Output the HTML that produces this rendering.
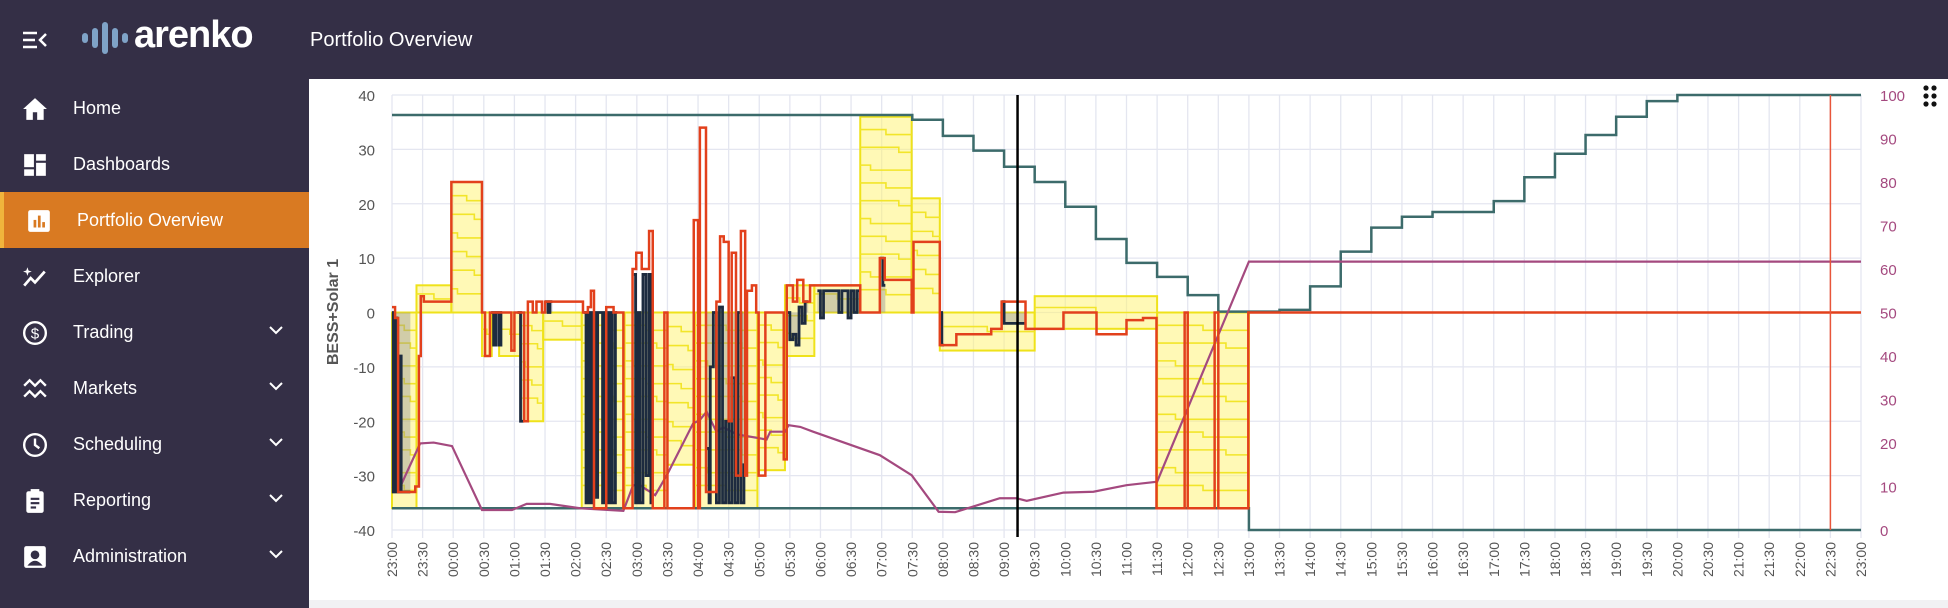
<!DOCTYPE html>
<html><head><meta charset="utf-8"><style>
*{box-sizing:border-box;margin:0;padding:0}
body{width:1948px;height:608px;overflow:hidden;background:#342f46;font-family:"Liberation Sans",sans-serif;position:relative}
#hdr{position:absolute;left:0;top:0;width:1948px;height:79px;background:#342f46}
#side{position:absolute;left:0;top:79px;width:309px;height:529px;background:#342f46}
.item{position:absolute;left:0;width:309px;height:56px;color:#fff;font-size:18px}
.item .lbl{position:absolute;left:73px;top:18px}
.item svg.ic{position:absolute;left:22px;top:16px}
.item .chev{position:absolute;left:268px;top:20px}
#card{position:absolute;left:309px;top:79px;width:1639px;height:521px;background:#fff}
#strip{position:absolute;left:309px;top:600px;width:1639px;height:8px;background:#f1f1f3}
</style></head><body>
<div id="hdr">
 <svg style="position:absolute;left:22px;top:30px" width="26" height="20"><g stroke="#fff" stroke-width="2.5"><line x1="1" y1="3" x2="15" y2="3"/><line x1="1" y1="10" x2="13" y2="10"/><line x1="1" y1="17" x2="15" y2="17"/><polyline points="24,4 18,10 24,16" fill="none"/></g></svg>
 <svg style="position:absolute;left:82px;top:22px" width="46" height="32"><g fill="#7fa3c7"><rect x="0" y="11" width="6" height="10" rx="3"/><rect x="10" y="6" width="6" height="20" rx="3"/><rect x="20" y="0" width="6" height="32" rx="3"/><rect x="30" y="6" width="6" height="20" rx="3"/><rect x="40" y="11" width="6" height="10" rx="3"/></g></svg>
 <div style="position:absolute;left:134px;top:14px;color:#fff;font-size:38px;font-weight:bold;letter-spacing:-1px">arenko</div>
 <div style="position:absolute;left:310px;top:29px;color:#fff;font-size:20px">Portfolio Overview</div>
</div>
<div id="side"></div>
<div id="card"></div>
<div id="strip"></div>
<svg id="chart" style="position:absolute;left:0;top:0" width="1948" height="608"></svg>
<script>
// ---- sidebar ----
const menuLabels=["Home","Dashboards","Portfolio Overview","Explorer","Trading","Markets","Scheduling","Reporting","Administration"];
const menuChevron=[false,false,false,false,true,true,true,true,true];
const icons=[
 '<path d="M12 2 L1 12 H4 V22 H10 V15 H14 V22 H20 V12 H23 Z" fill="#fff"/>',
 '<rect x="2" y="2" width="9" height="12" fill="#fff"/><rect x="13" y="2" width="9" height="6" fill="#fff"/><rect x="2" y="16" width="9" height="6" fill="#fff"/><rect x="13" y="10" width="9" height="12" fill="#fff"/>',
 '<rect x="2" y="2" width="20" height="20" rx="2" fill="#fff"/><rect x="7" y="11" width="2.5" height="7" fill="#d97a22"/><rect x="11" y="7" width="2.5" height="11" fill="#d97a22"/><rect x="15" y="13" width="2.5" height="5" fill="#d97a22"/>',
 '<polyline points="2,20 8,13 12,17 21,7" fill="none" stroke="#fff" stroke-width="2.5"/><path d="M5 3 L6 6 L9 7 L6 8 L5 11 L4 8 L1 7 L4 6Z" fill="#fff"/>',
 '<circle cx="12" cy="12" r="10" fill="none" stroke="#fff" stroke-width="2.2"/><text x="12" y="17" font-size="14" fill="#fff" text-anchor="middle" font-family="Liberation Sans">$</text>',
 '<polyline points="2,9 7,4 12,9 17,4 22,9" fill="none" stroke="#fff" stroke-width="2.2"/><polyline points="2,19 7,14 12,19 17,14 22,19" fill="none" stroke="#fff" stroke-width="2.2"/>',
 '<circle cx="12" cy="12" r="10" fill="none" stroke="#fff" stroke-width="2.2"/><polyline points="12,6 12,12 16,15" fill="none" stroke="#fff" stroke-width="2.2"/>',
 '<rect x="4" y="3" width="16" height="20" rx="2" fill="#fff"/><rect x="8" y="1" width="8" height="4" fill="#fff"/><g stroke="#342f46" stroke-width="2"><line x1="8" y1="10" x2="16" y2="10"/><line x1="8" y1="14" x2="16" y2="14"/><line x1="8" y1="18" x2="13" y2="18"/></g>',
 '<rect x="2" y="2" width="20" height="20" rx="2" fill="#fff"/><circle cx="12" cy="10" r="4" fill="#342f46"/><path d="M5 20 Q12 11 19 20Z" fill="#342f46"/>'
];
const side=document.getElementById('side');
menuLabels.forEach((l,i)=>{
 const d=document.createElement('div');
 d.className='item';
 
 
 d.style.top=(i*56+1)+'px';
 if(i===2){d.style.background='#d97a22';d.style.borderLeft='4px solid #f0b43c';}
 d.innerHTML='<svg class="ic" width="26" height="26" viewBox="0 0 24 24">'+icons[i]+'</svg><span class="lbl">'+l+'</span>'+(menuChevron[i]?'<svg class="chev" width="16" height="12"><polyline points="2,3 8,9 14,3" fill="none" stroke="#fff" stroke-width="2"/></svg>':'');
 side.appendChild(d);
});

// ---- chart data ----
const xLabels=["23:00","23:30","00:00","00:30","01:00","01:30","02:00","02:30","03:00","03:30","04:00","04:30","05:00","05:30","06:00","06:30","07:00","07:30","08:00","08:30","09:00","09:30","10:00","10:30","11:00","11:30","12:00","12:30","13:00","13:30","14:00","14:30","15:00","15:30","16:00","16:30","17:00","17:30","18:00","18:30","19:00","19:30","20:00","20:30","21:00","21:30","22:00","22:30","23:00"];
const leftTicks=[40,30,20,10,0,-10,-20,-30,-40];
const rightTicks=[100,90,80,70,60,50,40,30,20,10,0];
const socMax=[[0,95.4],[8.5,94.3],[9,90.6],[9.5,87.2],[10,83.5],[10.5,80],[11,74.3],[11.5,66.9],[12,61.4],[12.5,58.2],[13,54],[13.5,50.2],[14.5,50.6],[15,56],[15.5,64],[16,69.5],[16.5,72],[17,73.1],[18,75.6],[18.5,81.1],[19,86.5],[19.5,90.8],[20,95],[20.5,98.6],[21,100],[24,100]];
const socMin=[[0,5],[14,0],[24,0]];
const socPath=[[0,9.6],[0.13,9.8],[0.46,19.9],[0.68,20.1],[0.98,19.3],[1.47,4.6],[1.96,4.6],[2.2,6],[2.58,6],[3.07,5],[3.78,4.4],[3.94,10.3],[4.05,10.3],[4.3,8],[4.49,12.6],[4.92,24.5],[5.03,25.3],[5.14,27.2],[5.3,22.6],[5.41,23.6],[5.63,22],[6.12,20.8],[6.18,22.6],[6.42,22.6],[6.48,24.1],[6.67,23.7],[6.88,22.6],[7.97,17.2],[8.49,12.6],[8.93,4.2],[9.2,4.1],[9.93,7.3],[10.2,7.3],[10.37,6.7],[10.97,8.6],[11.46,8.8],[12.0,10.3],[12.5,11.1],[14,61.7],[24,61.7]];
const redSetpoint=[[0,1],[0.05,-1],[0.1,-33],[0.38,-32],[0.44,-8],[0.47,3],[0.52,2],[0.97,24],[1.47,0],[1.52,-8],[1.6,0],[1.95,-7],[2.0,0],[2.16,-20],[2.22,2],[2.3,0],[2.36,2],[2.45,0],[2.5,2],[3.12,0],[3.2,1],[3.25,4],[3.3,-36],[3.5,1],[3.62,0],[3.78,-36],[3.93,8],[3.99,11],[4.08,8],[4.2,15],[4.26,-36],[4.45,0],[4.5,-36],[4.93,17],[5.0,-36],[5.03,34],[5.13,-33],[5.3,2],[5.36,14],[5.42,13],[5.5,-20],[5.55,11],[5.62,-30],[5.7,15],[5.77,-30],[5.8,4],[5.88,5],[5.95,0],[5.99,-30],[6.1,0],[6.4,-27],[6.45,5],[6.55,2],[6.62,6],[6.72,2],[6.83,5],[7.65,0],[7.97,10],[8.05,6],[8.49,0],[8.52,13],[8.95,-6],[9.22,-4],[9.79,-3],[9.96,2],[10.35,-3],[10.97,0],[11.51,-4],[12.0,-1.4],[12.27,-1],[12.49,-36],[12.95,0],[13.0,-36],[13.44,0],[13.5,-36],[13.99,0],[24,0]];
const navyActual=[[0,0],[0.02,-33],[0.05,-1],[0.08,-33],[0.12,-8],[0.15,-33],[0.3,null],[1.62,0],[1.66,-6],[1.7,0],[1.75,-6],[1.78,0],[1.8,null],[2.05,0],[2.1,-20],[2.16,null],[2.5,2],[2.55,0],[2.58,2],[2.62,null],[3.13,0],[3.17,-35],[3.2,0],[3.24,-35],[3.28,0],[3.32,-34],[3.36,0],[3.44,-35],[3.48,0],[3.53,-35],[3.57,0],[3.6,-35],[3.65,0],[3.68,null],[3.95,7],[3.98,-35],[4.02,0],[4.05,-35],[4.1,7],[4.15,-30],[4.2,7],[4.23,-35],[4.28,null],[5.14,-25],[5.18,-35],[5.2,-10],[5.25,0],[5.3,-35],[5.35,1],[5.4,-35],[5.45,-20],[5.5,-35],[5.55,-12],[5.6,-35],[5.65,0],[5.7,-35],[5.75,-28],[5.8,null],[6.45,0],[6.5,-5],[6.55,-4],[6.6,-6],[6.65,1],[6.7,-2],[6.75,2],[6.8,null],[6.95,4],[7.0,-1],[7.05,4],[7.3,0],[7.35,4],[7.45,-1],[7.5,4],[7.55,0],[7.6,4],[7.65,null],[7.97,10],[8.02,5],[8.06,null],[8.95,0],[8.98,-6],[9.02,null],[9.96,2],[10.0,-2],[10.3,-2],[10.35,null]];
const bandStart=[0,0.4,0.97,1.47,1.75,2.1,2.47,3.1,3.8,4.5,4.95,5.97,6.42,6.9,7.65,8.49,8.95,10.5,12.5];
const bandEnd=[0.4,0.97,1.47,1.63,2.1,2.47,3.1,3.8,4.5,4.95,5.97,6.42,6.9,7.65,8.49,8.95,10.5,12.5,14.0];
const bandTop=[0,5,24,0,0,0,0,0,0,0,0,0,5,5,36,21,0,3,0];
const bandBottom=[-36,0,0,-8,-8,-20,-5,-36,-36,-28,-36,-29,-8,0,0,0,-7,-3,-36];
const cursorHour=10.22;
const nowHour=23.5;

// ---- scales ----
const X0=392,X1=1861,YT=95,YB=530;
const xs=h=>X0+h*(X1-X0)/24;
const yL=v=>YT+(40-v)*(YB-YT)/80;
const yR=p=>YB-p*(YB-YT)/100;
const svg=document.getElementById('chart');
const NS='http://www.w3.org/2000/svg';
function mk(tag,attrs,parent){const e=document.createElementNS(NS,tag);for(const k in attrs)e.setAttribute(k,attrs[k]);(parent||svg).appendChild(e);return e;}

const grid=mk('g',{});


leftTicks.forEach(v=>mk('line',{x1:X0,x2:X1,y1:yL(v),y2:yL(v),stroke:'#e4e6f0','stroke-width':1.3},grid));
xLabels.forEach((l,i)=>mk('line',{x1:xs(i/2),x2:xs(i/2),y1:YT,y2:YB+8,stroke:'#e4e6f0','stroke-width':1.3},grid));

const bands=mk('g',{});


bandStart.forEach((s,i)=>{
 const x0=xs(s),x1=xs(bandEnd[i]),y0=yL(bandTop[i]),y1=yL(bandBottom[i]);
 const r=mk('rect',{x:x0,y:y0,width:x1-x0,height:y1-y0,fill:'rgba(255,243,110,0.5)',stroke:'#efe21a','stroke-width':2},bands);
 
 
 const n=Math.max(2,Math.round((y1-y0)/18));
 for(let k=1;k<n;k++){const yy=y0+(y1-y0)*k/n;const xa=x0+(x1-x0)*(k%3===0?0.2:(k%3===1?0.5:0.75));mk('polyline',{points:`${x0},${yy-5} ${xa},${yy-5} ${xa},${yy} ${x1},${yy}`,fill:'none',stroke:'#f2e52a','stroke-width':1.6},bands);}
});

function stepPath(arr,yf){let d='',pen=false;for(let i=0;i<arr.length;i++){const [h,v]=arr[i];if(v===null){pen=false;continue;}const x=xs(h),y=yf(v);if(!pen){d+=`M${x},${y}`;pen=true;}else{d+=`H${x}V${y}`;}const nx=i+1<arr.length?xs(arr[i+1][0]):x;d+=`H${nx}`;}return d;}
function linePath(arr,yf){return arr.map((p,i)=>(i?'L':'M')+xs(p[0])+','+yf(p[1])).join('');}

const nf=mk('path',{d:(()=>{let d='';for(let i=0;i<navyActual.length-1;i++){const [h,v]=navyActual[i];if(v===null)continue;const x0=xs(h),x1=xs(navyActual[i+1][0]);d+=`M${x0},${yL(0)}V${yL(v)}H${x1}V${yL(0)}Z`;}return d;})(),fill:'rgba(140,140,150,0.4)'});



const sMax=mk('path',{d:stepPath(socMax,yR),fill:'none',stroke:'#3c6b6b','stroke-width':2.5});


const sMin=mk('path',{d:stepPath(socMin,yR),fill:'none',stroke:'#3c6b6b','stroke-width':2.5});


const soc=mk('path',{d:linePath(socPath,yR),fill:'none',stroke:'#a4497f','stroke-width':2.2});


const nv=mk('path',{d:stepPath(navyActual,yL),fill:'none',stroke:'#1d2b3f','stroke-width':2.8});


const rd=mk('path',{d:stepPath(redSetpoint,yL),fill:'none',stroke:'#e2401c','stroke-width':2.5});


const cur=mk('line',{x1:xs(cursorHour),x2:xs(cursorHour),y1:YT,y2:YB+7,stroke:'#000','stroke-width':2.5});


const now=mk('line',{x1:xs(nowHour),x2:xs(nowHour),y1:YT,y2:YB,stroke:'#e8553a','stroke-width':1.5});



leftTicks.forEach(v=>{const t=mk('text',{x:375,y:yL(v)+6,'text-anchor':'end','font-size':15,fill:'#555','font-family':'Liberation Sans'});t.textContent=v;

});
rightTicks.forEach(v=>{const t=mk('text',{x:1880,y:yR(v)+6,'text-anchor':'start','font-size':15,fill:'#a4497f','font-family':'Liberation Sans'});t.textContent=v;

});
xLabels.forEach((l,i)=>{const x=xs(i/2)+5;const t=mk('text',{x:x,y:542,transform:`rotate(-90 ${x} 542)`,'text-anchor':'end','font-size':14,fill:'#555','font-family':'Liberation Sans'});t.textContent=l;

});
const yt=mk('text',{x:338,y:312,transform:'rotate(-90 338 312)','text-anchor':'middle','font-size':16,'font-weight':'bold',fill:'#555','font-family':'Liberation Sans'});
yt.textContent='BESS+Solar 1';


const dg=mk('g',{});


[[0,0],[8,0],[0,8],[8,8],[0,16],[8,16]].forEach(p=>mk('circle',{cx:1926+p[0],cy:88+p[1],r:2.6,fill:'#111'},dg));
</script>
</body></html>
